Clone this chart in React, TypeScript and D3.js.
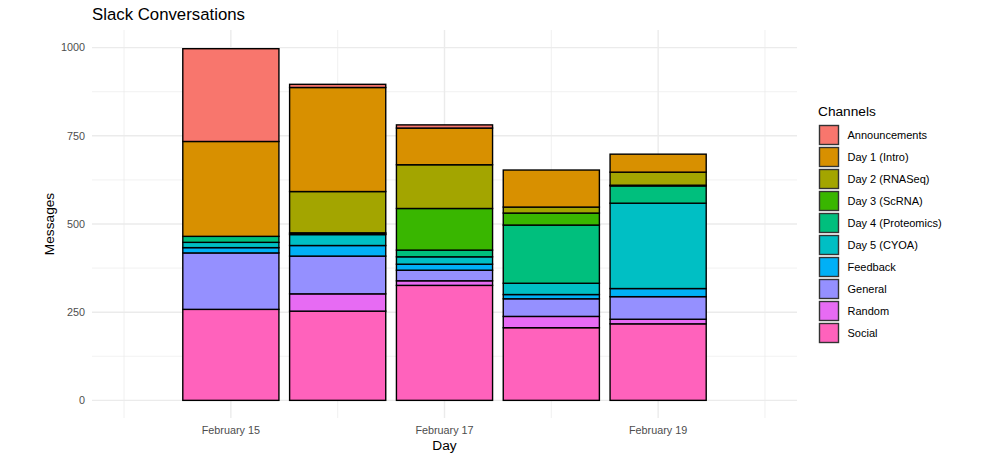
import React, { useEffect, useRef } from 'react';
import * as d3 from 'd3';

// days of the workshop (February), bottom-to-top stacking handled below
const days = [15, 16, 17, 18, 19];

const channels = [
  'Announcements',
  'Day 1 (Intro)',
  'Day 2 (RNASeq)',
  'Day 3 (ScRNA)',
  'Day 4 (Proteomics)',
  'Day 5 (CYOA)',
  'Feedback',
  'General',
  'Random',
  'Social',
];

const channelColors = [
  '#F8766D', '#D89000', '#A3A500', '#39B600', '#00BF7D',
  '#00BFC4', '#00B0F6', '#9590FF', '#E76BF3', '#FF62BC',
];

// messages per channel, one value per day (Feb 15..19)
const announcements = [263, 9, 9, 0, 0];
const day1Intro = [269, 295, 104, 105, 51];
const day2RNASeq = [0, 117, 124, 17, 37];
const day3ScRNA = [0, 3, 118, 34, 2];
const day4Proteomics = [17, 2, 19, 165, 49];
const day5CYOA = [15, 31, 21, 32, 242];
const feedback = [15, 30, 17, 12, 23];
const general = [160, 107, 30, 50, 64];
const random = [0, 49, 13, 32, 13];
const social = [258, 253, 326, 206, 217];

const yTicks = [0, 250, 500, 750, 1000];
const yMinor = [125, 375, 625, 875];

const W = 997;
const H = 455;
const panel = { left: 92, right: 797, top: 30, bottom: 418 };
const FONT = '"Liberation Sans", Arial, Helvetica, sans-serif';

const dayDate = (d: number) => new Date(Date.UTC(2023, 1, d));

export default function App() {
  const ref = useRef<SVGSVGElement>(null);

  useEffect(() => {
    document.body.style.margin = '0';
    if (!ref.current) return;
    const svg = d3.select(ref.current);
    svg.selectAll('*').remove();

    const series = [announcements, day1Intro, day2RNASeq, day3ScRNA, day4Proteomics,
      day5CYOA, feedback, general, random, social];
    const rows = days.map((d, i) => {
      const r: Record<string, number> = { day: d };
      channels.forEach((c, j) => { r[c] = series[j][i]; });
      return r;
    });

    // ggplot stacks the first level on top
    const stackKeys = channels.slice().reverse();
    const stacked = d3.stack<Record<string, number>>().keys(stackKeys)(rows);
    const color = d3.scaleOrdinal<string, string>().domain(channels).range(channelColors);

    const x = d3.scaleUtc()
      .domain([new Date(Date.UTC(2023, 1, 13, 16, 48)), new Date(Date.UTC(2023, 1, 20, 7, 12))])
      .range([panel.left, panel.right]);
    const y = d3.scaleLinear().domain([-50, 1050]).range([panel.bottom, panel.top]);

    const barW = x(dayDate(15).getTime() + 0.9 * 86400000) - x(dayDate(15));

    const grid = svg.append('g');
    yMinor.forEach(v => {
      grid.append('line').attr('x1', panel.left).attr('x2', panel.right)
        .attr('y1', y(v)).attr('y2', y(v)).attr('stroke', '#EBEBEB').attr('stroke-width', 0.7);
    });
    [14, 16, 18, 20].forEach(d => {
      grid.append('line').attr('x1', x(dayDate(d))).attr('x2', x(dayDate(d)))
        .attr('y1', panel.top).attr('y2', panel.bottom).attr('stroke', '#EBEBEB').attr('stroke-width', 0.7);
    });
    yTicks.forEach(v => {
      grid.append('line').attr('x1', panel.left).attr('x2', panel.right)
        .attr('y1', y(v)).attr('y2', y(v)).attr('stroke', '#EBEBEB').attr('stroke-width', 1.4);
    });
    [15, 17, 19].forEach(d => {
      grid.append('line').attr('x1', x(dayDate(d))).attr('x2', x(dayDate(d)))
        .attr('y1', panel.top).attr('y2', panel.bottom).attr('stroke', '#EBEBEB').attr('stroke-width', 1.4);
    });

    const bars = svg.append('g');
    stacked.forEach(layer => {
      bars.append('g').selectAll('rect')
        .data(layer.filter(s => s[1] - s[0] > 0))
        .join('rect')
        .attr('x', s => x(dayDate(s.data.day)) - barW / 2)
        .attr('width', barW)
        .attr('y', s => y(s[1]))
        .attr('height', s => y(s[0]) - y(s[1]))
        .attr('fill', color(layer.key))
        .attr('stroke', '#000')
        .attr('stroke-width', 1.4);
    });

    // y axis labels
    svg.append('g').selectAll('text').data(yTicks).join('text')
      .attr('x', 85).attr('y', v => y(v)).attr('dy', '0.35em')
      .attr('text-anchor', 'end').attr('font-family', FONT).attr('font-size', 10.8)
      .attr('fill', '#4D4D4D').text(v => String(v));

    // x axis labels
    const fmt = d3.utcFormat('%B %-d');
    svg.append('g').selectAll('text').data([15, 17, 19]).join('text')
      .attr('x', d => x(dayDate(d))).attr('y', 434)
      .attr('text-anchor', 'middle').attr('font-family', FONT).attr('font-size', 10.8)
      .attr('fill', '#4D4D4D').text(d => fmt(dayDate(d)));

    svg.append('text').attr('x', (panel.left + panel.right) / 2).attr('y', 450)
      .attr('text-anchor', 'middle').attr('font-family', FONT).attr('font-size', 13.7)
      .attr('fill', '#000').text('Day');

    svg.append('text')
      .attr('transform', `translate(54,${(panel.top + panel.bottom) / 2}) rotate(-90)`)
      .attr('text-anchor', 'middle').attr('font-family', FONT).attr('font-size', 13.7)
      .attr('fill', '#000').text('Messages');

    svg.append('text').attr('x', 92).attr('y', 20)
      .attr('font-family', FONT).attr('font-size', 16.8).attr('fill', '#000')
      .text('Slack Conversations');

    // legend
    const lg = svg.append('g').attr('transform', 'translate(818,0)');
    lg.append('text').attr('x', 0).attr('y', 116)
      .attr('font-family', FONT).attr('font-size', 13.7).attr('fill', '#000').text('Channels');
    const keySize = 22;
    channels.forEach((c, i) => {
      const ky = 124 + i * keySize;
      lg.append('rect').attr('x', 1.5).attr('y', ky + 1.5)
        .attr('width', keySize - 3).attr('height', keySize - 3)
        .attr('fill', color(c)).attr('stroke', '#333').attr('stroke-width', 1.4);
      lg.append('text').attr('x', 29.5).attr('y', ky + keySize / 2).attr('dy', '0.35em')
        .attr('font-family', FONT).attr('font-size', 11).attr('fill', '#000').text(c);
    });
  }, []);

  return <svg ref={ref} width={W} height={H} style={{ display: 'block', background: '#fff' }} />;
}
